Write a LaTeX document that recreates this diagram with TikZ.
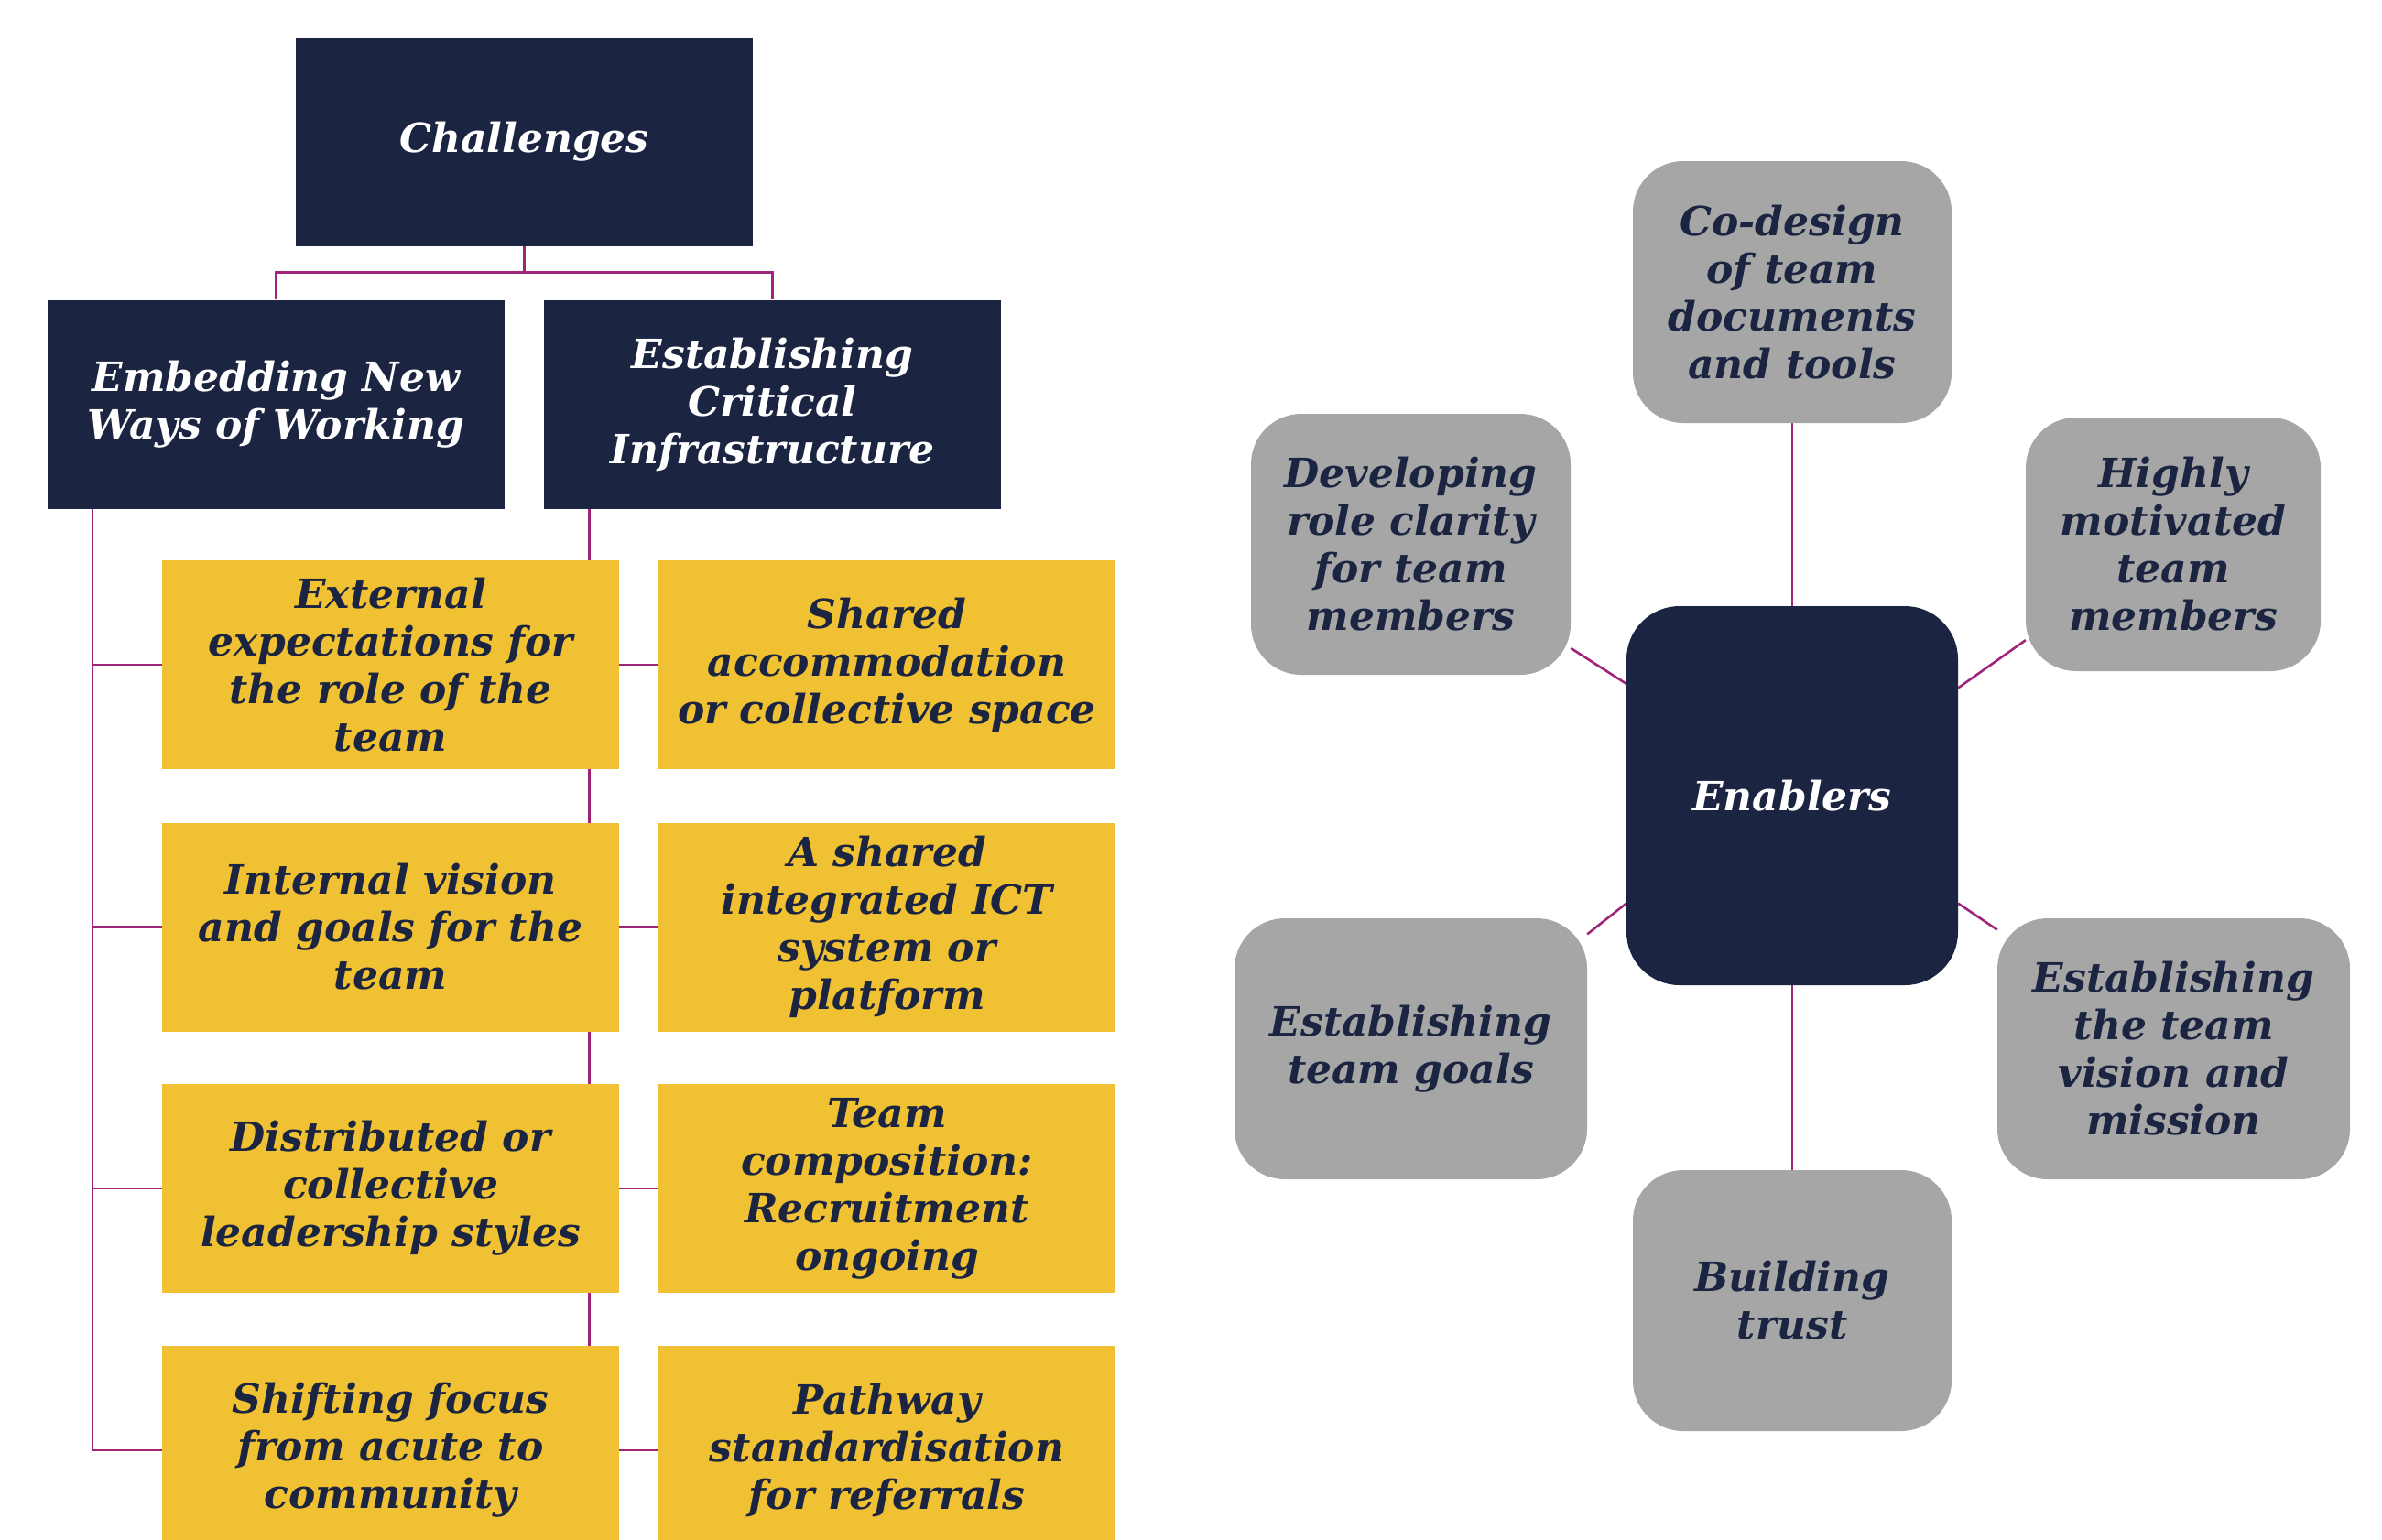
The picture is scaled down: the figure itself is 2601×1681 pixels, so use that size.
\documentclass[tikz,border=0pt]{standalone}
\usepackage{fontspec}
\setmainfont{DejaVu Serif}
\usetikzlibrary{backgrounds}
\definecolor{navy}{HTML}{1B2440}
\definecolor{yel}{HTML}{F0C233}
\definecolor{greyb}{HTML}{A6A6A6}
\definecolor{mag}{HTML}{A0257A}
\tikzset{
  basebox/.style={inner sep=0pt, align=center, font=\bfseries\itshape\fontsize{44}{52}\selectfont},
  navybox/.style={basebox, fill=navy, text=white, minimum width=499pt, minimum height=228pt},
  yelbox/.style={basebox, fill=yel, text=navy, minimum width=499pt, minimum height=228pt},
  greybox/.style={basebox, fill=greyb, text=navy, rounded corners=55pt},
  hubbox/.style={basebox, fill=navy, text=white, rounded corners=58pt, minimum width=362pt, minimum height=414pt},
  conn/.style={draw=mag, line width=2.6pt},
}
\begin{document}
\begin{tikzpicture}[x=1pt,y=-1pt]
\useasboundingbox (0,0) rectangle (2601,1681);
% left: challenges tree
\node[navybox] (ch) at (572.5,155) {Challenges};
\node[navybox] (emb) at (301.5,441.5) {Embedding New\\Ways of Working};
\node[navybox] (est) at (843.5,441.5) {Establishing\\Critical\\Infrastructure};
\node[yelbox] (l1) at (426.5,726) {External\\expectations for\\the role of the\\team};
\node[yelbox] (r1) at (968.5,726) {Shared\\accommodation\\or collective space};
\node[yelbox] (l2) at (426.5,1012.5) {Internal vision\\and goals for the\\team};
\node[yelbox] (r2) at (968.5,1012.5) {A shared\\integrated ICT\\system or\\platform};
\node[yelbox] (l3) at (426.5,1298) {Distributed or\\collective\\leadership styles};
\node[yelbox] (r3) at (968.5,1298) {Team\\composition:\\Recruitment\\ongoing};
\node[yelbox] (l4) at (426.5,1584) {Shifting focus\\from acute to\\community};
\node[yelbox] (r4) at (968.5,1584) {Pathway\\standardisation\\for referrals};
% right: enablers
\node[hubbox] (en) at (1957,869) {Enablers};
\node[greybox, minimum width=348pt, minimum height=286pt] (cod) at (1957,319) {Co-design\\of team\\documents\\and tools};
\node[greybox, minimum width=349pt, minimum height=285pt] (dev) at (1540.5,594.5) {Developing\\role clarity\\for team\\members};
\node[greybox, minimum width=322pt, minimum height=277pt] (hig) at (2373,594.5) {Highly\\motivated\\team\\members};
\node[greybox, minimum width=385pt, minimum height=285pt] (goa) at (1540.5,1145.5) {Establishing\\team goals};
\node[greybox, minimum width=385pt, minimum height=285pt] (vis) at (2373.5,1145.5) {Establishing\\the team\\vision and\\mission};
\node[greybox, minimum width=348pt, minimum height=285pt] (tru) at (1957,1420.5) {Building\\trust};
\begin{pgfonlayer}{background}
\path (ch.south) ++(0,28) coordinate (j);
\draw[conn] (ch.south) -- (j) -| (emb.north);
\draw[conn] (j) -| (est.north);
\path (emb.south west) ++(49,0) coordinate (ltop);
\path (est.south west) ++(49.5,0) coordinate (rtop);
\draw[conn] (ltop) |- (l4.west);
\draw[conn] (ltop |- l1.west) -- (l1.west);
\draw[conn] (ltop |- l2.west) -- (l2.west);
\draw[conn] (ltop |- l3.west) -- (l3.west);
\draw[conn] (rtop) |- (r4.west);
\draw[conn] (rtop |- r1.west) -- (r1.west);
\draw[conn] (rtop |- r2.west) -- (r2.west);
\draw[conn] (rtop |- r3.west) -- (r3.west);
\draw[conn] (cod.south) -- (en.north);
\draw[conn] (en.south) -- (tru.north);
\draw[conn] (dev.-33.3) -- (en.146.7);
\draw[conn] (hig.213.2) -- (en.33.3);
\draw[conn] (goa.33.7) -- (en.213.5);
\draw[conn] (vis.146.3) -- (en.-33.5);
\end{pgfonlayer}
\end{tikzpicture}
\end{document}
